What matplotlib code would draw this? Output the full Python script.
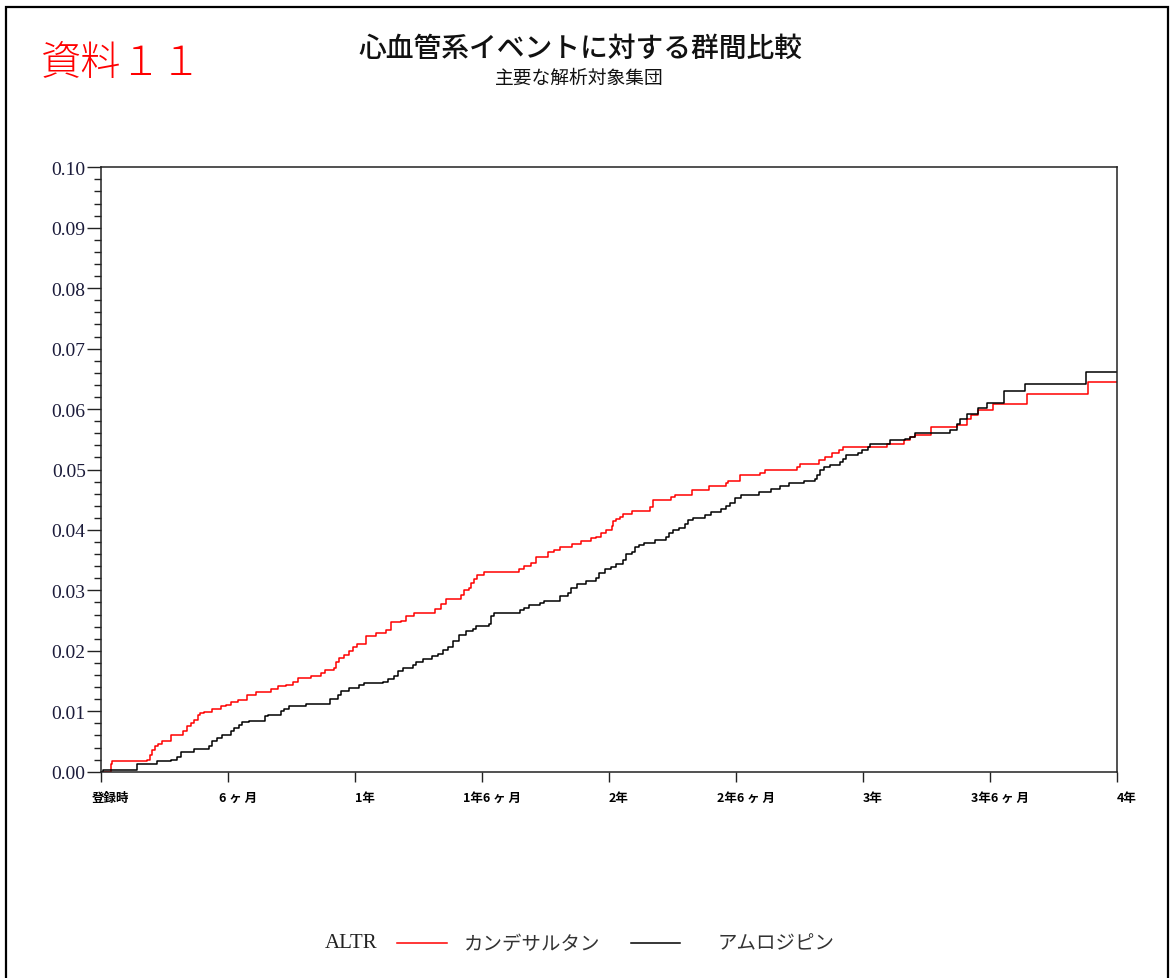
import matplotlib
matplotlib.use("Agg")
import matplotlib.pyplot as plt
from matplotlib.lines import Line2D
from matplotlib.patches import Rectangle
from matplotlib.ticker import MultipleLocator, FormatStrFormatter
import matplotlib.transforms as mtransforms

plt.rcParams['font.family'] = ['Noto Sans CJK JP', 'DejaVu Sans']

# Cumulative event incidence (step function), time in months from enrolment
cand_months = [0.00, 0.46, 0.54, 2.19, 2.32, 2.43, 2.54, 2.70, 2.90, 3.29,
               3.89, 4.05, 4.24, 4.40, 4.56, 4.68, 4.87, 5.26, 5.66, 5.90,
               6.13, 6.48, 6.89, 7.31, 8.02, 8.34, 8.73, 9.05, 9.32, 9.92,
               10.39, 10.58, 10.99, 11.10, 11.26, 11.49, 11.73, 11.89, 12.09, 12.52,
               12.99, 13.46, 13.70, 14.17, 14.41, 14.77, 15.78, 16.08, 16.32, 17.01,
               17.13, 17.38, 17.50, 17.64, 17.78, 18.11, 19.74, 20.00, 20.32, 20.56,
               21.11, 21.42, 21.69, 22.26, 22.68, 23.16, 23.39, 23.63, 23.87, 24.15,
               24.21, 24.34, 24.50, 24.65, 25.10, 25.95, 26.10, 26.94, 27.14, 27.93,
               28.72, 29.51, 29.62, 30.20, 31.12, 31.35, 32.88, 33.01, 33.92, 34.19,
               34.55, 34.87, 35.06, 37.14, 37.93, 38.21, 38.45, 39.19, 40.42, 40.89,
               41.12, 41.44, 42.15, 43.73, 46.64]
cand_rate = [0.0000, 0.0012, 0.0017, 0.0020, 0.0028, 0.0036, 0.0042, 0.0046, 0.0050, 0.0060,
             0.0067, 0.0076, 0.0081, 0.0086, 0.0093, 0.0097, 0.0098, 0.0103, 0.0108, 0.0111,
             0.0115, 0.0119, 0.0127, 0.0132, 0.0137, 0.0141, 0.0144, 0.0149, 0.0155, 0.0159,
             0.0163, 0.0169, 0.0171, 0.0182, 0.0188, 0.0193, 0.0199, 0.0206, 0.0212, 0.0225,
             0.0230, 0.0235, 0.0248, 0.0250, 0.0257, 0.0263, 0.0269, 0.0278, 0.0286, 0.0293,
             0.0300, 0.0304, 0.0312, 0.0319, 0.0326, 0.0331, 0.0335, 0.0341, 0.0345, 0.0355,
             0.0363, 0.0367, 0.0372, 0.0376, 0.0381, 0.0386, 0.0389, 0.0395, 0.0400, 0.0407,
             0.0414, 0.0418, 0.0422, 0.0426, 0.0431, 0.0438, 0.0449, 0.0454, 0.0458, 0.0466,
             0.0472, 0.0477, 0.0481, 0.0491, 0.0495, 0.0500, 0.0504, 0.0509, 0.0516, 0.0520,
             0.0528, 0.0533, 0.0538, 0.0542, 0.0549, 0.0553, 0.0557, 0.0570, 0.0574, 0.0583,
             0.0590, 0.0598, 0.0609, 0.0625, 0.0644]

amlo_months = [0.00, 0.11, 1.72, 2.63, 3.29, 3.58, 3.80, 4.40, 5.11, 5.26,
               5.50, 5.74, 6.16, 6.29, 6.53, 6.64, 7.00, 7.74, 7.87, 8.50,
               8.65, 8.89, 9.68, 10.83, 11.22, 11.33, 11.73, 12.20, 12.44, 13.30,
               13.54, 13.86, 14.01, 14.25, 14.72, 14.88, 15.20, 15.62, 15.91, 16.14,
               16.38, 16.61, 16.93, 17.25, 17.56, 17.72, 18.35, 18.43, 18.59, 19.80,
               20.00, 20.24, 20.74, 20.95, 21.69, 22.05, 22.21, 22.48, 22.92, 23.39,
               23.52, 23.83, 24.10, 24.34, 24.65, 24.81, 25.10, 25.25, 25.44, 25.63,
               26.15, 26.70, 26.83, 27.02, 27.33, 27.57, 27.73, 27.97, 28.52, 28.83,
               29.30, 29.54, 29.70, 29.94, 30.25, 31.09, 31.67, 32.07, 32.50, 33.22,
               33.71, 33.83, 33.95, 34.15, 34.45, 34.90, 35.06, 35.21, 35.77, 35.97,
               36.24, 36.35, 37.26, 37.97, 38.21, 38.45, 40.10, 40.42, 40.57, 40.89,
               41.44, 41.87, 42.65, 43.65, 46.53]
amlo_rate = [0.0000, 0.0003, 0.0012, 0.0017, 0.0020, 0.0024, 0.0033, 0.0038, 0.0042, 0.0050,
             0.0056, 0.0060, 0.0068, 0.0072, 0.0078, 0.0082, 0.0084, 0.0092, 0.0094, 0.0100,
             0.0104, 0.0108, 0.0112, 0.0120, 0.0127, 0.0134, 0.0139, 0.0144, 0.0146, 0.0149,
             0.0154, 0.0159, 0.0166, 0.0172, 0.0176, 0.0181, 0.0186, 0.0191, 0.0195, 0.0201,
             0.0206, 0.0217, 0.0226, 0.0232, 0.0236, 0.0241, 0.0245, 0.0258, 0.0263, 0.0267,
             0.0271, 0.0275, 0.0279, 0.0283, 0.0290, 0.0295, 0.0304, 0.0311, 0.0315, 0.0320,
             0.0328, 0.0335, 0.0339, 0.0344, 0.0350, 0.0360, 0.0364, 0.0371, 0.0375, 0.0379,
             0.0384, 0.0388, 0.0395, 0.0400, 0.0404, 0.0410, 0.0417, 0.0419, 0.0425, 0.0430,
             0.0434, 0.0440, 0.0445, 0.0453, 0.0458, 0.0463, 0.0468, 0.0473, 0.0477, 0.0481,
             0.0485, 0.0491, 0.0499, 0.0504, 0.0508, 0.0513, 0.0518, 0.0524, 0.0528, 0.0533,
             0.0538, 0.0542, 0.0548, 0.0550, 0.0553, 0.0560, 0.0566, 0.0575, 0.0583, 0.0592,
             0.0601, 0.0610, 0.0630, 0.0641, 0.0662]

series_names = ["カンデサルタン", "アムロジピン"]
series_colors = ["#ff0000", "#000000"]

x_tick_months = [0, 6, 12, 18, 24, 30, 36, 42, 48]
x_tick_labels = ["登録時", "6 ヶ 月", "1年", "1年6 ヶ 月", "2年",
                 "2年6 ヶ 月", "3年", "3年6 ヶ 月", "4年"]

title_text = "心血管系イベントに対する群間比較"
subtitle_text = "主要な解析対象集団"
doc_label = "資料１１"
legend_title = "ALTR"

W, H = 1171, 979
fig = plt.figure(figsize=(W / 100, H / 100), dpi=100)
fig.patch.set_facecolor("white")

# page border
fig.add_artist(Rectangle((6 / W, -0.02), (1168 - 6) / W, 1.02 - 8 / H,
                         transform=fig.transFigure, fill=False,
                         edgecolor="black", linewidth=1.6))

ax = fig.add_axes([101 / W, 1 - 772.7 / H, (1117 - 101) / W, (772.7 - 168.3) / H])

t_end = x_tick_months[-1]
for months, rate, name, col in [(cand_months, cand_rate, series_names[0], series_colors[0]),
                                (amlo_months, amlo_rate, series_names[1], series_colors[1])]:
    ax.step(months + [t_end], rate + [rate[-1]], where="post",
            color=col, linewidth=1.1, label=name)

ax.set_xlim(0, 48)
ax.set_ylim(0, 0.10)

for sp in ax.spines.values():
    sp.set_linewidth(1.1)
    sp.set_color("#222222")

ax.yaxis.set_major_locator(MultipleLocator(0.01))
ax.yaxis.set_minor_locator(MultipleLocator(0.002))
ax.yaxis.set_major_formatter(FormatStrFormatter("%.2f"))
ax.tick_params(axis="y", which="major", direction="out", length=10, width=1.0,
               color="#222222", pad=1, labelsize=14, labelcolor="#1b1b3a")
ax.tick_params(axis="y", which="minor", direction="out", length=5, width=1.0,
               color="#222222")
for lab in ax.get_yticklabels():
    lab.set_fontfamily(["Liberation Serif", "DejaVu Serif"])

ax.set_xticks(x_tick_months)
ax.set_xticklabels(x_tick_labels)
ax.tick_params(axis="x", which="major", direction="out", length=7, width=1.0,
               color="#222222", pad=7, labelsize=9)
shift = mtransforms.ScaledTranslation(10 / 100, 0, fig.dpi_scale_trans)
for lab in ax.get_xticklabels():
    lab.set_fontweight("bold")
    lab.set_transform(lab.get_transform() + shift)

# titles
fig.text(580 / W, 1 - 48 / H, title_text, ha="center", va="center",
         fontsize=20, color="#111111", fontweight="medium")
fig.text(579 / W, 1 - 78 / H, subtitle_text, ha="center", va="center",
         fontsize=13.5, color="#111111")
fig.text(41 / W, 1 - 64 / H, doc_label, ha="left", va="center",
         fontsize=29, color="#ff0000", fontweight="light")

# legend row
ly = 1 - 944 / H
fig.text(325 / W, ly, legend_title, ha="left", va="center", fontsize=15,
         family=["Liberation Serif", "DejaVu Serif"], color="#222222")
handles = ax.get_lines()
legend_layout = [(397, 447, 464), (631, 680, 718)]
for h, (x0, x1, xt) in zip(handles, legend_layout):
    fig.add_artist(Line2D([x0 / W, x1 / W], [ly, ly], transform=fig.transFigure,
                          color=h.get_color(), linewidth=1.1))
    fig.text(xt / W, ly, h.get_label(), ha="left", va="center",
             fontsize=14, color="#333333")

fig.savefig("out.png", dpi=100, facecolor="white")
